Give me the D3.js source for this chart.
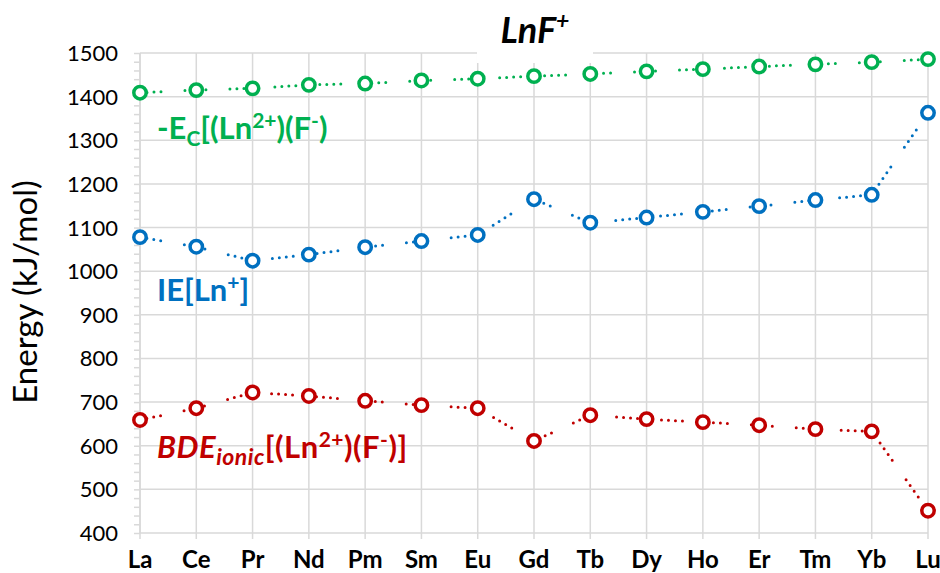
<!DOCTYPE html>
<html>
<head>
<meta charset="utf-8">
<script src="https://cdn.jsdelivr.net/npm/d3@7"></script>
<style>
  body { margin: 0; background: #fff; }
  svg text { font-family: Lato, "Open Sans", sans-serif; }
</style>
</head>
<body>
<svg id="chart" width="940" height="573"></svg>
<script>
const elements = ['La', 'Ce', 'Pr', 'Nd', 'Pm', 'Sm', 'Eu', 'Gd', 'Tb', 'Dy', 'Ho', 'Er', 'Tm', 'Yb', 'Lu']
const ecValues = [1409, 1415, 1419, 1427, 1430, 1437, 1441, 1447, 1452, 1458, 1463, 1469, 1474, 1479, 1486]
const ieValues = [1078, 1056, 1024, 1038, 1055, 1069, 1083, 1165, 1111, 1123, 1136, 1149, 1163, 1175, 1363]
const bdeValues = [659, 686, 722, 714, 703, 693, 686, 611, 670, 661, 654, 647, 638, 633, 451]
const yTicks = [400, 500, 600, 700, 800, 900, 1000, 1100, 1200, 1300, 1400, 1500]

const svg = d3.select('#chart')
const plotL = 140, plotR = 928, plotT = 53, plotB = 533

const x = d3.scalePoint().domain(elements).range([plotL, plotR])
const y = d3.scaleLinear().domain([400, 1500]).range([plotB, plotT])

const grid = '#d9d9d9'

// grid lines
svg.append('g').selectAll('line').data(yTicks).enter().append('line')
  .attr('x1', plotL).attr('x2', plotR)
  .attr('y1', d => y(d)).attr('y2', d => y(d))
  .attr('stroke', grid).attr('stroke-width', 1.5)

svg.append('g').selectAll('line').data(elements).enter().append('line')
  .attr('x1', d => x(d)).attr('x2', d => x(d))
  .attr('y1', plotT).attr('y2', plotB + 6)
  .attr('stroke', grid).attr('stroke-width', 1.5)

// y axis with minor ticks
const yAxis = svg.append('g').attr('transform', `translate(${plotL},0)`)
yAxis.call(d3.axisLeft(y).tickValues(d3.range(400, 1501, 20)).tickSize(6).tickFormat(''))
yAxis.select('.domain').remove()
yAxis.selectAll('line').attr('stroke', grid).attr('stroke-width', 1.5)
yAxis.append('line').attr('y1', plotT).attr('y2', plotB).attr('stroke', grid).attr('stroke-width', 1.5)
yAxis.selectAll('text.lbl').data(yTicks).enter().append('text')
  .attr('class', 'lbl')
  .attr('x', -22).attr('y', d => y(d) + 8)
  .attr('text-anchor', 'end')
  .attr('font-size', 22)
  .attr('fill', '#000')
  .text(d => d)

// x labels
svg.append('g').selectAll('text').data(elements).enter().append('text')
  .attr('x', d => x(d)).attr('y', 568)
  .attr('text-anchor', 'middle')
  .attr('font-size', 24).attr('font-weight', 'bold')
  .text(d => d)

// title with white box
svg.append('rect').attr('x', 477).attr('y', 0).attr('width', 116).attr('height', 63).attr('fill', '#fff')
const title = svg.append('text').attr('x', 535).attr('y', 43).attr('text-anchor', 'middle')
  .attr('font-size', 36).attr('font-weight', 'bold').attr('font-style', 'italic')
title.append('tspan').text('LnF')
title.append('tspan').attr('font-size', 23).attr('dy', -14).text('+')

// axis title
svg.append('text')
  .attr('transform', 'translate(37,292) rotate(-90)')
  .attr('text-anchor', 'middle')
  .attr('font-size', 33)
  .text('Energy (kJ/mol)')

const series = [
  { values: ecValues, color: '#00b050' },
  { values: ieValues, color: '#0070c0' },
  { values: bdeValues, color: '#c00000' }
]

const line = d3.line().x((d, i) => x(elements[i])).y(d => y(d))

series.forEach(s => {
  svg.append('path')
    .attr('d', line(s.values))
    .attr('fill', 'none')
    .attr('stroke', s.color)
    .attr('stroke-width', 3)
    .attr('stroke-linecap', 'round')
    .attr('stroke-dasharray', '0 7 0 7 0 7 0 24')

  svg.append('g').selectAll('circle').data(s.values).enter().append('circle')
    .attr('cx', (d, i) => x(elements[i]))
    .attr('cy', d => y(d))
    .attr('r', 6.2)
    .attr('fill', '#fff')
    .attr('stroke', s.color)
    .attr('stroke-width', 3.5)
})

// series labels
const ecLabel = svg.append('text').attr('x', 157).attr('y', 139)
  .attr('font-size', 31).attr('font-weight', 'bold').attr('fill', '#00b050')
ecLabel.append('tspan').text('-E')
ecLabel.append('tspan').attr('font-size', 21).attr('dy', 7).text('C')
ecLabel.append('tspan').attr('dy', -7).text('[(Ln')
ecLabel.append('tspan').attr('font-size', 21).attr('dy', -11).text('2+')
ecLabel.append('tspan').attr('dy', 11).text(')(F')
ecLabel.append('tspan').attr('font-size', 21).attr('dy', -11).text('-')
ecLabel.append('tspan').attr('dy', 11).text(')')

const ieLabel = svg.append('text').attr('x', 157).attr('y', 301)
  .attr('font-size', 31).attr('font-weight', 'bold').attr('fill', '#0070c0')
ieLabel.append('tspan').text('IE[Ln')
ieLabel.append('tspan').attr('font-size', 21).attr('dy', -11).text('+')
ieLabel.append('tspan').attr('dy', 11).text(']')

const bdeLabel = svg.append('text').attr('x', 157).attr('y', 458)
  .attr('font-size', 31).attr('font-weight', 'bold').attr('fill', '#c00000')
  .attr('letter-spacing', 0.5)
bdeLabel.append('tspan').attr('font-style', 'italic').text('BDE')
bdeLabel.append('tspan').attr('font-style', 'italic').attr('font-size', 23).attr('dy', 7).text('ionic')
bdeLabel.append('tspan').attr('dy', -7).text('[(Ln')
bdeLabel.append('tspan').attr('font-size', 21).attr('dy', -11).text('2+')
bdeLabel.append('tspan').attr('dy', 11).text(')(F')
bdeLabel.append('tspan').attr('font-size', 21).attr('dy', -11).text('-')
bdeLabel.append('tspan').attr('dy', 11).text(')]')
</script>
</body>
</html>
